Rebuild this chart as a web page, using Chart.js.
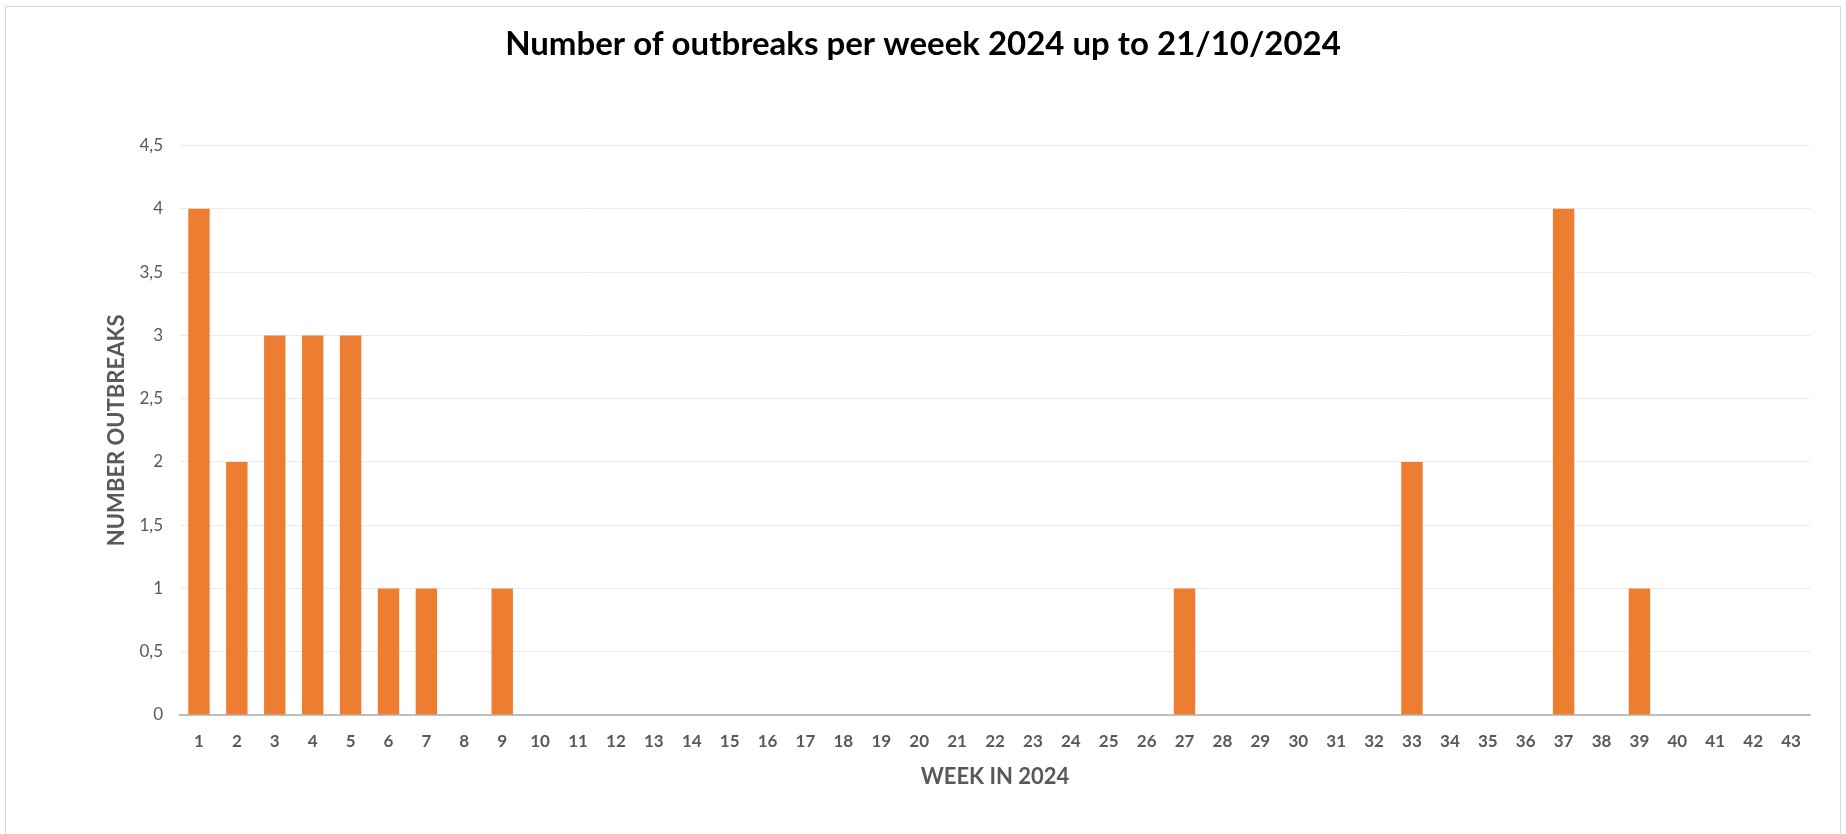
<!DOCTYPE html>
<html>
<head>
<meta charset="utf-8">
<title>Number of outbreaks per weeek 2024</title>
<script src="https://cdn.jsdelivr.net/npm/chart.js@4"></script>
<style>
    html, body { margin: 0; padding: 0; background: #fff; }
    #wrap { position: relative; width: 1846px; height: 834px; overflow: hidden; }
    #frame { position: absolute; left: 5px; top: 6px; width: 1836px; height: 860px; border: 1px solid #d9d9d9; box-sizing: border-box; pointer-events: none; }
    canvas { position: absolute; left: 0; top: 0; }
</style>
</head>
<body>
<div id="wrap">
    <canvas id="outbreaks-chart" width="1846" height="834"></canvas>
    <div id="frame"></div>
</div>
<script>
// Data
const weeks = ['1', '2', '3', '4', '5', '6', '7', '8', '9', '10', '11', '12', '13', '14', '15',
    '16', '17', '18', '19', '20', '21', '22', '23', '24', '25', '26', '27', '28', '29', '30',
    '31', '32', '33', '34', '35', '36', '37', '38', '39', '40', '41', '42', '43'];
const outbreaks = [4, 2, 3, 3, 3, 1, 1, 0, 1, 0, 0, 0, 0, 0, 0,
    0, 0, 0, 0, 0, 0, 0, 0, 0, 0, 0, 1, 0, 0, 0,
    0, 0, 2, 0, 0, 0, 4, 0, 1, 0, 0, 0, 0];
const yTicks = [0, 0.5, 1, 1.5, 2, 2.5, 3, 3.5, 4, 4.5];

const fontFamily = 'Lato, "Noto Sans", sans-serif';
const gray = '#595959';

const outbreaksChart = new Chart(document.getElementById('outbreaks-chart'), {
    type: 'bar',
    data: {
        labels: weeks,
        datasets: [{
            backgroundColor: '#ED7D31',
            data: outbreaks,
            categoryPercentage: 1,
            barPercentage: 0.565
        }]
    },
    options: {
        responsive: false,
        animation: false,
        layout: {
            // equal side padding keeps the title centred on the canvas
            padding: { left: 36, right: 36, top: 0, bottom: 0 }
        },
        plugins: {
            legend: { display: false },
            tooltip: { enabled: false },
            title: {
                display: true,
                text: 'Number of outbreaks per weeek 2024 up to 21/10/2024',
                color: '#000',
                font: { family: fontFamily, size: 33, weight: 'bold' },
                padding: { top: 25, bottom: 81 }
            }
        },
        scales: {
            x: {
                grid: { display: false, drawTicks: false },
                border: { color: '#bfbfbf', width: 2 },
                ticks: {
                    color: gray,
                    padding: 16,
                    font: { family: fontFamily, size: 17, weight: 'bold' }
                },
                title: {
                    display: true,
                    text: 'WEEK IN 2024',
                    color: gray,
                    font: { family: fontFamily, size: 22, weight: 'bold' },
                    padding: { top: 0, bottom: 44 }
                },
                afterFit: function(scale) {
                    scale.height = 119;
                }
            },
            y: {
                min: 0,
                max: 4.5,
                afterBuildTicks: function(scale) {
                    scale.ticks = yTicks.map(v => ({ value: v }));
                },
                grid: { color: '#ebebeb', drawTicks: false },
                border: { display: false },
                ticks: {
                    color: gray,
                    padding: 17,
                    font: { family: fontFamily, size: 17 },
                    callback: v => String(v).replace('.', ',')
                },
                title: {
                    display: true,
                    text: 'NUMBER OUTBREAKS',
                    color: gray,
                    font: { family: fontFamily, size: 22, weight: 'bold' },
                    padding: { top: 68, bottom: 0 }
                },
                afterFit: function(scale) {
                    scale.width = 144;
                }
            }
        }
    }
});
</script>
</body>
</html>
